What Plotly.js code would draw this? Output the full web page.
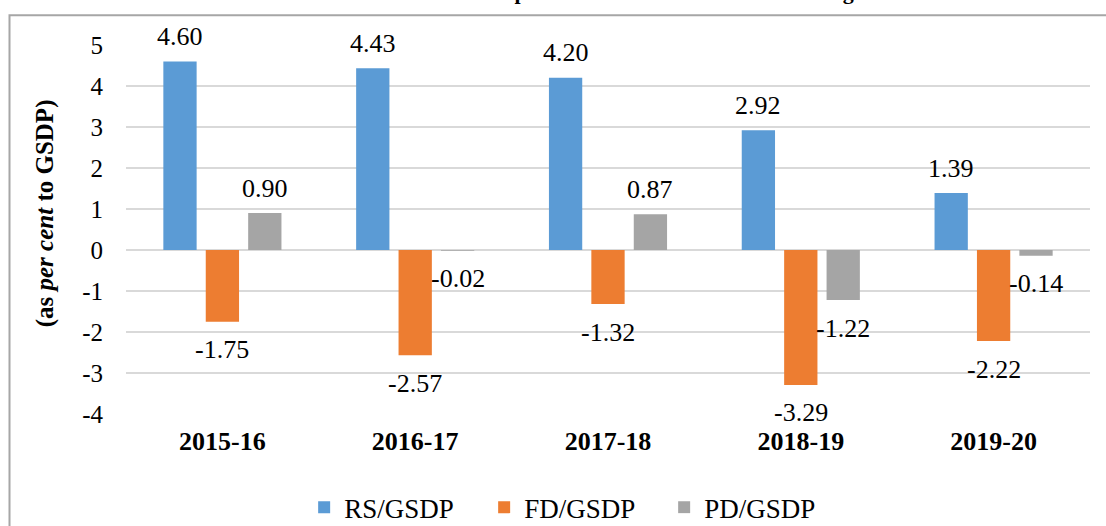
<!DOCTYPE html>
<html>
<head>
<meta charset="utf-8">
<script src="https://cdn.plot.ly/plotly-3.0.1.min.js"></script>
<style>
html,body{margin:0;padding:0;background:#fff;}
#chart{width:1106px;height:526px;}
</style>
</head>
<body>
<div id="chart"></div>
<script>
const categories = ["2015-16", "2016-17", "2017-18", "2018-19", "2019-20"];
const rsGsdp = [4.60, 4.43, 4.20, 2.92, 1.39];
const fdGsdp = [-1.75, -2.57, -1.32, -3.29, -2.22];
const pdGsdp = [0.90, -0.02, 0.87, -1.22, -0.14];
const seriesNames = ["RS/GSDP", "FD/GSDP", "PD/GSDP"];
const yTicks = [-4, -3, -2, -1, 0, 1, 2, 3, 4, 5];

const colors = ["#5B9BD5", "#ED7D31", "#A5A5A5"];
const allSeries = [rsGsdp, fdGsdp, pdGsdp];
const FONT = "Liberation Serif";

const traces = allSeries.map((vals, i) => ({
  type: "bar",
  name: seriesNames[i],
  x: categories,
  y: vals,
  marker: {color: colors[i]},
  hoverinfo: "skip"
}));

const shifts = [-42.4, 0, 42.4];
const annotations = [];
allSeries.forEach((vals, i) => {
  vals.forEach((v, j) => {
    annotations.push({
      x: categories[j], y: v, xref: "x", yref: "y",
      text: v.toFixed(2), showarrow: false,
      xshift: shifts[i], yshift: v >= 0 ? 25 : -28,
      xanchor: "center", yanchor: "middle",
      font: {family: FONT, size: 26, color: "#000"}
    });
  });
});
annotations.push({
  xref: "paper", yref: "paper", x: 0.5, y: 1.107,
  xanchor: "center", yanchor: "bottom", showarrow: false,
  text: "<b>Chart 1.3: Trends in Surplus/Deficit relative to GSDP during 2015-20</b>",
  font: {family: FONT, size: 22, color: "#000"}
});
annotations.push({
  xref: "paper", yref: "paper", x: (45 - 126) / 964, y: (413.7 - 213) / 369,
  xanchor: "center", yanchor: "middle", showarrow: false, textangle: -90,
  text: "<b>(as <i>per cent</i> to GSDP)</b>",
  font: {family: FONT, size: 25, color: "#000"}
});

const layout = {
  width: 1106, height: 526,
  margin: {l: 126, r: 16, t: 44.7, b: 112.3},
  paper_bgcolor: "#fff", plot_bgcolor: "#fff",
  font: {family: FONT, color: "#000"},
  barmode: "group", bargap: 0.34, bargroupgap: 0.215,
  showlegend: true,
  legend: {
    orientation: "h", xref: "container", yref: "container",
    x: 0.275, y: 0.035, xanchor: "left", yanchor: "middle",
    entrywidth: 135, entrywidthmode: "pixels",
    font: {family: FONT, size: 27, color: "#000"},
    traceorder: "normal"
  },
  xaxis: {
    type: "category",
    showgrid: false, zeroline: false, showline: false, ticks: "",
    tickfont: {family: FONT, size: 26, color: "#000", weight: "bold"},
    ticklabelstandoff: 9
  },
  yaxis: {
    range: [-4, 5], tickvals: yTicks, ticktext: yTicks.map(String),
    showgrid: true, gridcolor: "#d9d9d9", gridwidth: 1.5,
    zeroline: false, showline: false, ticks: "",
    tickfont: {family: FONT, size: 25, color: "#000"},
    ticklabelstandoff: 22
  },
  shapes: [{
    type: "rect", xref: "paper", yref: "paper",
    x0: (9.5 - 126) / 964, x1: (1120 - 126) / 964,
    y0: (413.7 - 540) / 369, y1: (413.7 - 15) / 369,
    line: {color: "#a6a6a6", width: 2}, fillcolor: "rgba(0,0,0,0)", layer: "below"
  }],
  annotations: annotations
};

Plotly.newPlot("chart", traces, layout, {displayModeBar: false, staticPlot: true});
</script>
</body>
</html>
